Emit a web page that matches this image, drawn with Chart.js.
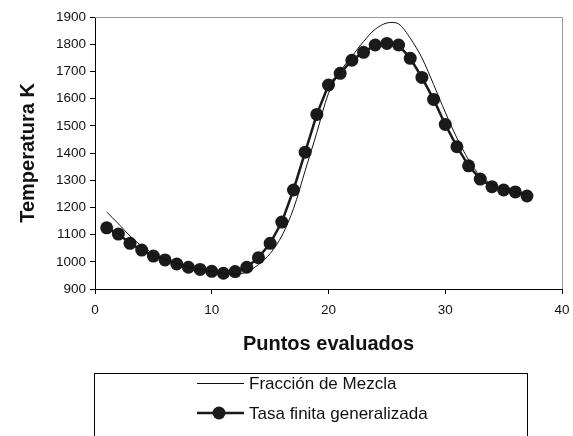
<!DOCTYPE html>
<html><head><meta charset="utf-8">
<script src="https://cdn.jsdelivr.net/npm/chart.js@4"></script>
<style>html,body{margin:0;padding:0;background:#fff}#wrap{width:573px;height:436px;position:relative}</style>
</head><body><div id="wrap"><canvas id="c" width="573" height="436"></canvas></div>
<script>
const xMezcla = [1,2,3,4,5,6,7,8,9,10,11,12,13,14,15,16,17,18,19,20,21,22,23,24,25,26,27,28,29,30,31,32,33,34,35,36,37];
const yMezcla = [1183,1140,1095,1058,1030,1010,995,982,972,965,958,955,962,990,1030,1095,1195,1335,1475,1620,1700,1755,1810,1855,1878,1875,1822,1750,1652,1550,1455,1375,1315,1285,1268,1258,1250];
const xTasa = [1,2,3,4,5,6,7,8,9,10,11,12,13,14,15,16,17,18,19,20,21,22,23,24,25,26,27,28,29,30,31,32,33,34,35,36,37];
const yTasa = [1125,1102,1068,1043,1021,1007,992,980,972,965,958,964,980,1015,1068,1146,1264,1403,1542,1650,1693,1741,1770,1797,1803,1797,1748,1678,1597,1505,1423,1353,1304,1276,1264,1257,1242];
const seriesNames = ['Fracción de Mezcla','Tasa finita generalizada'];
const xTicks = [0,10,20,30,40];
const yTicks = [900,1000,1100,1200,1300,1400,1500,1600,1700,1800,1900];

const FONT = 'Liberation Sans, Arial, sans-serif';
const toPts = (xs, ys) => xs.map((x,i)=>({x:x,y:ys[i]}));

const frame = {
  id:'frame',
  afterDatasetsDraw(chart){
    const {ctx, chartArea:a} = chart;
    ctx.save();
    ctx.strokeStyle = '#9a9a9a'; ctx.lineWidth = 1;
    ctx.beginPath();
    ctx.moveTo(a.left, a.top+0.5); ctx.lineTo(a.right+0.5, a.top+0.5); ctx.lineTo(a.right+0.5, a.bottom);
    ctx.stroke();
    // legend
    const bx=94.5, by=373.5, bw=433, bh=80;
    ctx.strokeStyle='#000'; ctx.lineWidth=1;
    ctx.strokeRect(bx,by,bw,bh);
    ctx.font = '17px ' + FONT; ctx.fillStyle='#111'; ctx.textBaseline='middle'; ctx.textAlign='left';
    const ds = chart.data.datasets;
    ctx.strokeStyle = ds[0].borderColor; ctx.lineWidth = ds[0].borderWidth;
    ctx.beginPath(); ctx.moveTo(197,383.5); ctx.lineTo(244,383.5); ctx.stroke();
    ctx.fillText(ds[0].label, 249, 384);
    ctx.strokeStyle = ds[1].borderColor; ctx.lineWidth = ds[1].borderWidth;
    ctx.beginPath(); ctx.moveTo(197,413); ctx.lineTo(244,413); ctx.stroke();
    ctx.fillStyle = ds[1].pointBackgroundColor;
    ctx.beginPath(); ctx.arc(219,413,ds[1].pointRadius,0,Math.PI*2); ctx.fill();
    ctx.fillStyle='#111';
    ctx.fillText(ds[1].label, 249, 414);
    ctx.restore();
  }
};

new Chart(document.getElementById('c'), {
  type:'line',
  data:{datasets:[
    {label:seriesNames[0], data:toPts(xMezcla,yMezcla), borderColor:'#111', borderWidth:1, pointRadius:0, tension:0.3, fill:false},
    {label:seriesNames[1], data:toPts(xTasa,yTasa), borderColor:'#1a1a1a', borderWidth:2.5, pointRadius:6.5, pointBackgroundColor:'#1a1a1a', pointBorderWidth:0, tension:0, fill:false}
  ]},
  options:{
    responsive:false, animation:false,
    layout:{padding:{left:0,top:17,right:11,bottom:76}},
    plugins:{legend:{display:false}, tooltip:{enabled:false}},
    scales:{
      x:{type:'linear', min:0, max:40,
        afterBuildTicks(s){ s.ticks = xTicks.map(v=>({value:v})); },
        afterFit(s){ s.height = 71; s.paddingRight = 0; s.paddingLeft = 0; },
        grid:{drawOnChartArea:false, drawTicks:true, tickLength:5, color:'#000'},
        border:{color:'#000', width:1},
        ticks:{font:{family:FONT,size:13.5}, color:'#111', padding:8, maxRotation:0, callback:v=>String(v)},
        title:{display:true, text:'Puntos evaluados', font:{family:FONT,size:20,weight:'bold'}, color:'#111', padding:{top:4,bottom:4}}
      },
      y:{type:'linear', min:900, max:1900,
        afterBuildTicks(s){ s.ticks = yTicks.map(v=>({value:v})); },
        afterFit(s){ s.width = 95; s.paddingTop = 0; s.paddingBottom = 0; },
        grid:{drawOnChartArea:false, drawTicks:true, tickLength:5, color:'#000'},
        border:{color:'#000', width:1},
        ticks:{font:{family:FONT,size:13.5}, color:'#111', padding:4, callback:v=>String(v)},
        title:{display:true, text:'Temperatura K', font:{family:FONT,size:20,weight:'bold'}, color:'#111', padding:{top:16,bottom:4}}
      }
    }
  },
  plugins:[frame]
});
</script></body></html>
